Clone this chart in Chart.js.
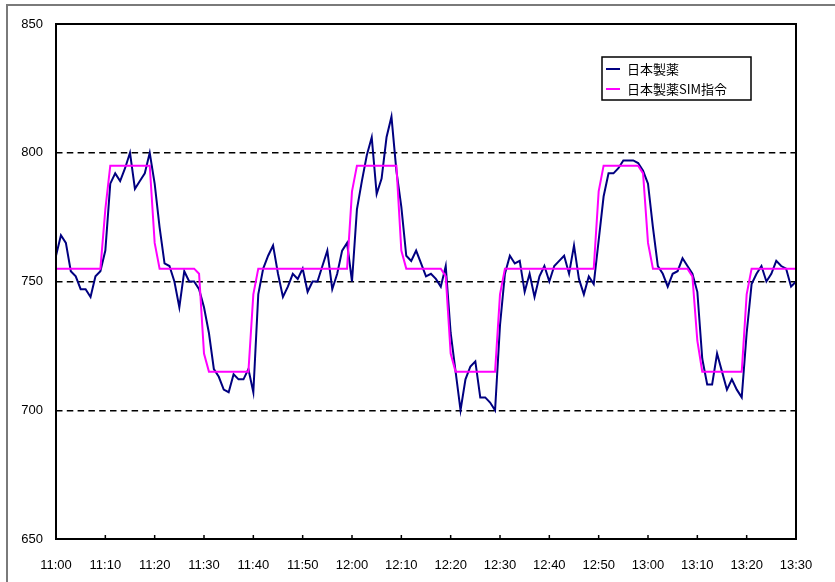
<!DOCTYPE html>
<html>
<head>
<meta charset="utf-8">
<script src="https://cdn.jsdelivr.net/npm/chart.js@4.4.0/dist/chart.umd.min.js"></script>
<style>
  html, body { margin: 0; padding: 0; background: #fff; overflow: hidden; }
</style>
</head>
<body>
<canvas id="myChart" width="835" height="582"></canvas>
<script>
// 系列名
const seriesNames = ["日本製薬", "日本製薬SIM指令"];

// 横軸ラベル (11:00 から 10 分ごと)
const tickLabels = ["11:00", "11:10", "11:20", "11:30", "11:40", "11:50", "12:00", "12:10",
  "12:20", "12:30", "12:40", "12:50", "13:00", "13:10", "13:20", "13:30"];

// 実績値 (1 分ごと, 11:00〜13:30)
const actual = [
  760, 768, 765, 754, 752, 747, 747, 744, 752, 754,
  762, 788, 792, 789, 794, 800, 786, 789, 792, 800,
  788, 771, 757, 756, 750, 740, 754, 750, 750, 747,
  740, 730, 716, 713, 708, 707, 714, 712, 712, 716,
  707, 745, 755, 760, 764, 753, 744, 748, 753, 751,
  755, 746, 750, 750, 756, 762, 747, 753, 762, 765,
  750, 778, 789, 799, 806, 784, 790, 806, 814, 793,
  779, 760, 758, 762, 757, 752, 753, 751, 748, 756,
  730, 715, 700, 712, 717, 719, 705, 705, 703, 700,
  733, 753, 760, 757, 758, 746, 753, 744, 752, 756,
  750, 756, 758, 760, 753, 764, 751, 745, 752, 749,
  766, 783, 792, 792, 794, 797, 797, 797, 796, 793,
  788, 771, 756, 753, 748, 753, 754, 759, 756, 753,
  746, 720, 710, 710, 722, 715, 708, 712, 708, 705,
  730, 749, 753, 756, 750, 753, 758, 756, 755, 748,
  750
];

// SIM指令値 (1 分ごと)
const command = [
  755, 755, 755, 755, 755, 755, 755, 755, 755, 755,
  778, 795, 795, 795, 795, 795, 795, 795, 795, 795,
  765, 755, 755, 755, 755, 755, 755, 755, 755, 753,
  722, 715, 715, 715, 715, 715, 715, 715, 715, 715,
  745, 755, 755, 755, 755, 755, 755, 755, 755, 755,
  755, 755, 755, 755, 755, 755, 755, 755, 755, 755,
  785, 795, 795, 795, 795, 795, 795, 795, 795, 795,
  762, 755, 755, 755, 755, 755, 755, 755, 755, 752,
  722, 715, 715, 715, 715, 715, 715, 715, 715, 715,
  745, 755, 755, 755, 755, 755, 755, 755, 755, 755,
  755, 755, 755, 755, 755, 755, 755, 755, 755, 755,
  785, 795, 795, 795, 795, 795, 795, 795, 795, 792,
  765, 755, 755, 755, 755, 755, 755, 755, 755, 752,
  727, 715, 715, 715, 715, 715, 715, 715, 715, 715,
  745, 755, 755, 755, 755, 755, 755, 755, 755, 755,
  755
];

const colors = ["#000080", "#ff00ff"];
const numFont = "'Liberation Sans', Arial, sans-serif";
const jpFont = "'Noto Sans CJK JP', sans-serif";

function toPoints(values) {
  return values.map((v, i) => ({ x: i, y: v }));
}

// 外枠・プロット枠・目盛り・凡例
const framePlugin = {
  id: "frame",
  beforeDraw(chart) {
    const ctx = chart.ctx;
    ctx.save();
    ctx.fillStyle = "#fff";
    ctx.fillRect(0, 0, chart.width, chart.height);
    ctx.strokeStyle = "#7a7a7a";
    ctx.lineWidth = 2;
    ctx.beginPath();
    ctx.moveTo(7, chart.height);
    ctx.lineTo(7, 5);
    ctx.lineTo(chart.width, 5);
    ctx.stroke();
    ctx.restore();
  },
  afterDraw(chart) {
    const ctx = chart.ctx;
    const a = chart.chartArea;
    const x = chart.scales.x;
    ctx.save();
    ctx.strokeStyle = "#000";
    ctx.lineWidth = 2;
    ctx.strokeRect(a.left, a.top, a.right - a.left, a.bottom - a.top);

    ctx.lineWidth = 1.5;
    x.ticks.forEach(t => {
      const px = x.getPixelForValue(t.value);
      ctx.beginPath();
      ctx.moveTo(px, a.bottom);
      ctx.lineTo(px, a.bottom - 4);
      ctx.stroke();
    });

    // 凡例
    const lx = a.right - 194, ly = a.top + 33;
    ctx.fillStyle = "#fff";
    ctx.fillRect(lx, ly, 149, 43);
    ctx.lineWidth = 1.5;
    ctx.strokeRect(lx, ly, 149, 43);
    ctx.font = "13px " + jpFont;
    ctx.textBaseline = "middle";
    seriesNames.forEach((name, i) => {
      const cy = ly + 12 + i * 20;
      ctx.strokeStyle = colors[i];
      ctx.lineWidth = 2;
      ctx.beginPath();
      ctx.moveTo(lx + 4, cy);
      ctx.lineTo(lx + 18, cy);
      ctx.stroke();
      ctx.fillStyle = "#000";
      ctx.fillText(name, lx + 25, cy);
    });
    ctx.restore();
  }
};

const ctx = document.getElementById("myChart").getContext("2d");
new Chart(ctx, {
  type: "line",
  data: {
    datasets: [
      {
        label: seriesNames[0],
        data: toPoints(actual),
        borderColor: colors[0],
        borderWidth: 2,
        pointRadius: 0,
        tension: 0,
        order: 2,
      },
      {
        label: seriesNames[1],
        data: toPoints(command),
        borderColor: colors[1],
        borderWidth: 2,
        pointRadius: 0,
        tension: 0,
        order: 1,
      },
    ],
  },
  options: {
    responsive: false,
    animation: false,
    devicePixelRatio: 1,
    layout: { padding: { left: 0, top: 24, right: 39, bottom: 0 } },
    plugins: {
      legend: { display: false },
      tooltip: { enabled: false },
    },
    scales: {
      x: {
        type: "linear",
        min: 0,
        max: 150,
        afterFit(scale) { scale.height = 43; },
        ticks: {
          stepSize: 10,
          padding: 19,
          color: "#000",
          font: { family: numFont, size: 13 },
          maxRotation: 0,
          callback: (v) => tickLabels[v / 10],
        },
        grid: { display: false, drawTicks: false },
        border: { display: false },
      },
      y: {
        min: 650,
        max: 850,
        afterFit(scale) { scale.width = 56; },
        ticks: {
          stepSize: 50,
          padding: 13,
          color: "#000",
          font: { family: numFont, size: 13 },
        },
        grid: {
          drawTicks: false,
          lineWidth: 1.5,
          color: (c) => (c.tick && (c.tick.value === 650 || c.tick.value === 850)) ? "rgba(0,0,0,0)" : "#000",
        },
        border: { display: false, dash: [6.5, 4.3] },
      },
    },
  },
  plugins: [framePlugin],
});
</script>
</body>
</html>
